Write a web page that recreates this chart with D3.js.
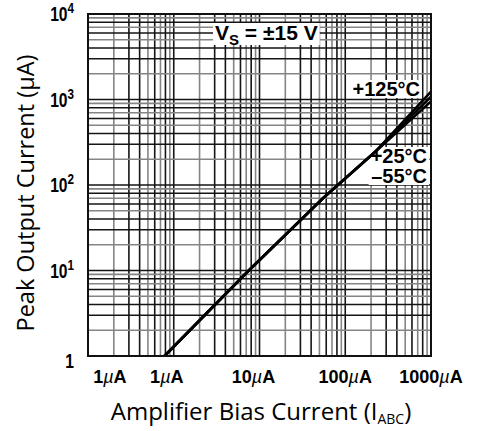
<!DOCTYPE html>
<html>
<head>
<meta charset="utf-8">
<script src="https://cdn.jsdelivr.net/npm/d3@7"></script>
<style>
  body { margin: 0; background: #fff; }
</style>
</head>
<body>
<div id="chart"></div>
<script>
// bias current (uA) and peak output current (uA) for each temperature
var biasCurrent = [0.78, 7.2, 55, 222, 1000]
var outHot  = [1, 9.6, 70, 243, 1240]   // +125 C
var outRoom = [1, 9.6, 70, 243, 1080]   // +25 C
var outCold = [1, 9.6, 70, 243, 950]    // -55 C

var yTickValues = [1, 10, 100, 1000, 10000]
var yTickBase = ['1', '10', '10', '10', '10']
var yTickExp = ['', '1', '2', '3', '4']

var xTickValues = [0.18, 0.83, 8.5, 100, 1000]
var xTickLabels = ['1', '1', '10', '100', '1000']

var decades = [0.1, 1, 10, 100]
var yDecades = [1, 10, 100, 1000]
var multipliers = [1, 2, 3, 4, 5, 6, 7, 8, 9]

var W = 483, H = 431
var margin = {top: 14, right: 52, bottom: 75, left: 88}

var bold = "'Liberation Sans', Arial, sans-serif"
var plain = "'Open Sans', 'Noto Sans', sans-serif"

var svg = d3.select("#chart").append("svg")
  .attr("width", W)
  .attr("height", H)

var x = d3.scaleLog()
  .domain([0.1, 1000])
  .range([margin.left, W - margin.right])

var y = d3.scaleLog()
  .domain([1, 10000])
  .range([H - margin.bottom, margin.top])

// grid: black and grey lines mixed like the printed graph paper
var gridColor = function(m){ return (m == 2 || m == 5 || m == 7 || m == 9) ? "#858585" : "#151515" }

var xGrid = []
decades.forEach(d => multipliers.forEach(m => xGrid.push({v: d * m, m: m})))
var yGrid = []
yDecades.forEach(d => multipliers.forEach(m => yGrid.push({v: d * m, m: m})))

var grid = svg.append("g").attr("class", "grid")
grid.selectAll("line.v")
  .data(xGrid)
  .join("line")
    .attr("class", "v")
    .attr("x1", d => x(d.v))
    .attr("x2", d => x(d.v))
    .attr("y1", y(10000))
    .attr("y2", y(1))
    .attr("stroke", d => gridColor(d.m))
    .attr("stroke-width", 1.6)

grid.selectAll("line.h")
  .data(yGrid)
  .join("line")
    .attr("class", "h")
    .attr("y1", d => y(d.v))
    .attr("y2", d => y(d.v))
    .attr("x1", x(0.1))
    .attr("x2", x(1000))
    .attr("stroke", d => gridColor(d.m))
    .attr("stroke-width", 1.6)

// labels inside the plot, on white patches
function boxedLabel(lines, xEnd, yBase, size, lineGap){
  var g = svg.append("g")
  var t = g.append("text")
    .attr("font-family", bold)
    .attr("font-weight", "bold")
    .attr("font-size", size)
    .attr("text-anchor", "end")
  lines.forEach((s, i) => {
    t.append("tspan").attr("x", xEnd).attr("y", yBase + i * lineGap).text(s)
  })
  var bb = t.node().getBBox()
  g.insert("rect", "text")
    .attr("x", bb.x - 2).attr("y", bb.y + 2)
    .attr("width", bb.width + 4).attr("height", bb.height - 4)
    .attr("fill", "#fff")
  return g
}

// Vs = +-15 V
var vs = svg.append("g")
var vsText = vs.append("text")
  .attr("x", 215)
  .attr("y", 40)
  .attr("font-family", bold)
  .attr("font-weight", "bold")
  .attr("font-size", 21)
vsText.append("tspan").text("V")
vsText.append("tspan").attr("dy", 5).attr("font-size", 15).text("S")
vsText.append("tspan").attr("dy", -5).text(" = ±15 V")
var vb = vsText.node().getBBox()
vs.insert("rect", "text")
  .attr("x", vb.x - 2).attr("y", 23)
  .attr("width", vb.width + 4).attr("height", 22)
  .attr("fill", "#fff")

boxedLabel(["+125°C"], 420, 96, 20, 0)
boxedLabel(["+25°C", "–55°C"], 427, 163, 20, 20)

// the three curves
var line = d3.line()
  .x(d => x(d[0]))
  .y(d => y(d[1]))

var curves = [outHot, outRoom, outCold]
svg.append("g")
  .selectAll("path")
  .data(curves)
  .join("path")
    .attr("d", c => line(d3.zip(biasCurrent, c)))
    .attr("fill", "none")
    .attr("stroke", "#000")
    .attr("stroke-width", 2.6)

// frame
svg.append("rect")
  .attr("x", x(0.1)).attr("y", y(10000))
  .attr("width", x(1000) - x(0.1))
  .attr("height", y(1) - y(10000))
  .attr("fill", "none")
  .attr("stroke", "#111")
  .attr("stroke-width", 2)

// y tick labels, condensed bold
var yLab = svg.append("g")
  .selectAll("text")
  .data(yTickValues)
  .join("text")
    .attr("transform", (d, i) => "translate(74," + (y(d) + (i == 0 ? 12 : 7)) + ") scale(0.78,1)")
    .attr("text-anchor", "end")
    .attr("font-family", bold)
    .attr("font-weight", "bold")
    .attr("font-size", 20)
yLab.append("tspan").text((d, i) => yTickBase[i])
yLab.append("tspan")
  .attr("dy", -8)
  .attr("font-size", 15)
  .text((d, i) => yTickExp[i])

// x tick labels
var xLab = svg.append("g")
  .selectAll("text")
  .data(xTickValues)
  .join("text")
    .attr("transform", d => "translate(" + x(d) + ",383) scale(0.95,1)")
    .attr("text-anchor", "middle")
    .attr("font-family", bold)
    .attr("font-weight", "bold")
    .attr("font-size", 19)
xLab.append("tspan").text((d, i) => xTickLabels[i])
xLab.append("tspan").attr("font-weight", "normal").attr("font-style", "italic").text("µ")
xLab.append("tspan").text("A")

// axis titles
svg.append("text")
  .attr("transform", "translate(34," + 193 + ") rotate(-90)")
  .attr("text-anchor", "middle")
  .attr("font-family", plain)
  .attr("font-size", 23.5)
  .text("Peak Output Current (µA)")

var xt = svg.append("text")
  .attr("x", 261)
  .attr("y", 420)
  .attr("text-anchor", "middle")
  .attr("font-family", plain)
  .attr("font-size", 24)
xt.append("tspan").text("Amplifier Bias Current (I")
xt.append("tspan").attr("dy", 4).attr("font-size", 14).text("ABC")
xt.append("tspan").attr("dy", -4).text(")")
</script>
</body>
</html>
